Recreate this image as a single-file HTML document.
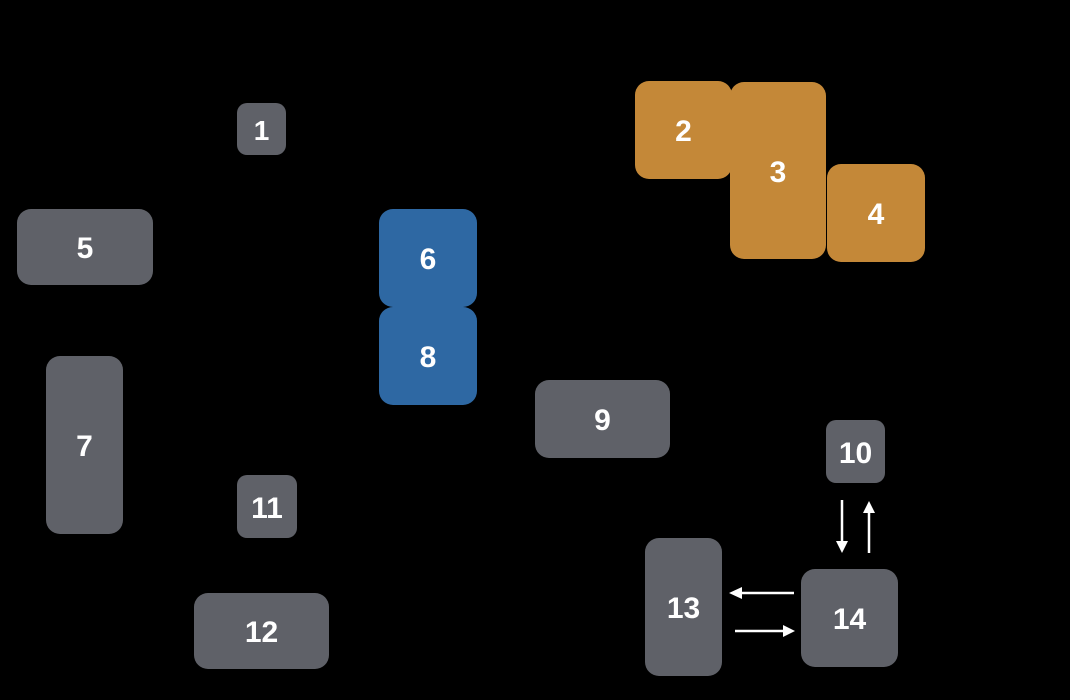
<!DOCTYPE html>
<html><head><meta charset="utf-8"><style>
body{margin:0;width:1070px;height:700px;background:#000;position:relative;overflow:hidden;font-family:"Liberation Sans",sans-serif}
.b{position:absolute;display:flex;align-items:center;justify-content:center;color:#fff;font-weight:bold;font-size:30px;border-radius:14px;background:#5f6168;box-sizing:border-box;padding-top:4px}
.o{background:#c48838}
.u{background:#2e68a3}
</style></head><body>
<div class="b" style="left:237px;top:103px;width:49px;height:52px;border-radius:10px;font-size:28px">1</div>
<div class="b o" style="left:635px;top:81px;width:97px;height:98px">2</div>
<div class="b o" style="left:730px;top:82px;width:96px;height:177px">3</div>
<div class="b o" style="left:827px;top:164px;width:98px;height:98px">4</div>
<div class="b" style="left:17px;top:209px;width:136px;height:76px">5</div>
<div class="b u" style="left:379px;top:209px;width:98px;height:98px">6</div>
<div class="b u" style="left:379px;top:307px;width:98px;height:98px">8</div>
<div class="b" style="left:46px;top:356px;width:77px;height:178px">7</div>
<div class="b" style="left:535px;top:380px;width:135px;height:78px">9</div>
<div class="b" style="left:826px;top:420px;width:59px;height:63px;border-radius:10px">10</div>
<div class="b" style="left:237px;top:475px;width:60px;height:63px;border-radius:10px">11</div>
<div class="b" style="left:194px;top:593px;width:135px;height:76px">12</div>
<div class="b" style="left:645px;top:538px;width:77px;height:138px">13</div>
<div class="b" style="left:801px;top:569px;width:97px;height:98px">14</div>
<svg width="1070" height="700" style="position:absolute;left:0;top:0">
<g stroke="#fff" stroke-width="2.5" fill="#fff">
<line x1="842" y1="500" x2="842" y2="543"/><polygon points="836,541 848,541 842,553" stroke="none"/>
<line x1="869" y1="553" x2="869" y2="511"/><polygon points="863,513 875,513 869,501" stroke="none"/>
<line x1="794" y1="593" x2="740" y2="593"/><polygon points="742,587 742,599 729,593" stroke="none"/>
<line x1="735" y1="631" x2="785" y2="631"/><polygon points="783,625 783,637 795,631" stroke="none"/>
</g></svg>
</body></html>
